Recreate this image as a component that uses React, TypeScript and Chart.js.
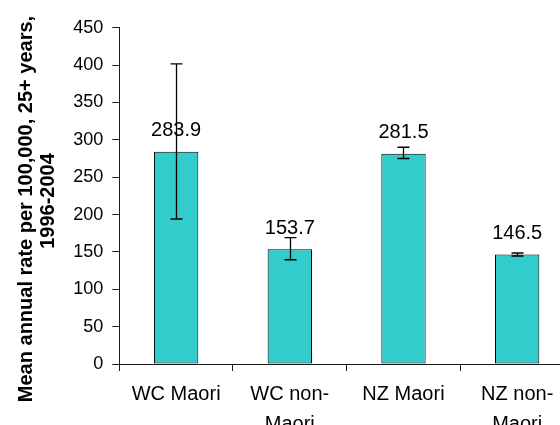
import React, { useEffect, useRef } from 'react';
import { Chart, registerables } from 'chart.js';

Chart.register(...registerables);

// ---- data ----
const categories: string[][] = [['WC Maori'], ['WC non-', 'Maori'], ['NZ Maori'], ['NZ non-', 'Maori']];
const rates: number[] = [283.9, 153.7, 281.5, 146.5];
const ciLower: number[] = [194, 139.5, 275, 144.5];
const ciUpper: number[] = [401.5, 169, 290, 148.5];
const yMin = 0;
const yMax = 450;
const yStep = 50;
const yTitleLines: string[] = ['Mean annual rate per 100,000, 25+ years,', '1996-2004'];

const FONT = "'Liberation Sans', Arial, Helvetica, sans-serif";
const CANVAS_W = 574;
const CANVAS_H = 450;
const AXIS_COLOR = '#1a1a1a';

export default function App() {
  const ref = useRef<HTMLCanvasElement>(null);

  useEffect(() => {
    const titlePlugin = {
      id: 'yTitle',
      afterDraw(chart: any) {
        const ctx = chart.ctx;
        ctx.save();
        ctx.fillStyle = '#000';
        ctx.font = `bold 20px ${FONT}`;
        ctx.textAlign = 'center';
        ctx.textBaseline = 'alphabetic';
        const pos = [
          { x: 32, y: 209 },
          { x: 54, y: 201 },
        ];
        yTitleLines.forEach((line, i) => {
          ctx.save();
          ctx.translate(pos[i].x, pos[i].y);
          ctx.rotate(-Math.PI / 2);
          ctx.fillText(line, 0, 0);
          ctx.restore();
        });
        ctx.restore();
      },
    };

    const valueLabels = {
      id: 'valueLabels',
      afterDatasetsDraw(chart: any) {
        const ctx = chart.ctx;
        const meta = chart.getDatasetMeta(0);
        ctx.save();
        ctx.fillStyle = '#000';
        ctx.font = `20px ${FONT}`;
        ctx.textAlign = 'center';
        ctx.textBaseline = 'alphabetic';
        meta.data.forEach((bar: any, i: number) => {
          ctx.fillText(rates[i].toFixed(1), bar.x, bar.y - 15.5);
        });
        ctx.restore();
      },
    };

    const errorBars = {
      id: 'errorBars',
      afterDatasetsDraw(chart: any) {
        const ctx = chart.ctx;
        const meta = chart.getDatasetMeta(0);
        const yScale = chart.scales.y;
        ctx.save();
        ctx.strokeStyle = '#000';
        ctx.lineWidth = 1.3;
        meta.data.forEach((bar: any, i: number) => {
          const x = Math.round(bar.x) + 0.5;
          const yl = yScale.getPixelForValue(ciLower[i]);
          const yh = yScale.getPixelForValue(ciUpper[i]);
          ctx.beginPath();
          ctx.moveTo(x, yl);
          ctx.lineTo(x, yh);
          ctx.moveTo(x - 6, yl);
          ctx.lineTo(x + 6, yl);
          ctx.moveTo(x - 6, yh);
          ctx.lineTo(x + 6, yh);
          ctx.stroke();
        });
        ctx.restore();
      },
    };

    const chart = new Chart(ref.current as HTMLCanvasElement, {
      type: 'bar',
      data: {
        labels: categories,
        datasets: [
          {
            data: rates,
            backgroundColor: '#33CCCC',
            borderColor: '#000',
            borderWidth: 1,
            borderSkipped: false,
            barPercentage: 0.39,
            categoryPercentage: 1,
          },
        ],
      },
      options: {
        responsive: false,
        animation: false,
        devicePixelRatio: 1,
        layout: { padding: { top: 27.7, left: 0, right: 0, bottom: 0 } },
        plugins: {
          legend: { display: false },
          tooltip: { enabled: false },
          title: { display: false },
        },
        scales: {
          x: {
            grid: {
              display: true,
              drawOnChartArea: false,
              drawTicks: true,
              tickLength: 7,
              color: AXIS_COLOR,
              offset: true,
            },
            border: { color: AXIS_COLOR, width: 1 },
            ticks: {
              color: '#000',
              font: { family: FONT, size: 20, lineHeight: 1.5 },
              padding: 8,
              maxRotation: 0,
              minRotation: 0,
              autoSkip: false,
            },
            afterFit: (s: any) => {
              s.height = CANVAS_H - 364;
            },
          },
          y: {
            min: yMin,
            max: yMax,
            grid: {
              display: true,
              drawOnChartArea: false,
              drawTicks: true,
              tickLength: 7,
              color: AXIS_COLOR,
            },
            border: { color: AXIS_COLOR, width: 1 },
            ticks: {
              stepSize: yStep,
              color: '#000',
              font: { family: FONT, size: 18 },
              padding: 9,
            },
            afterFit: (s: any) => {
              s.width = 119.3;
            },
          },
        },
      },
      plugins: [titlePlugin, valueLabels, errorBars],
    });
    return () => chart.destroy();
  }, []);

  return (
    <div
      style={{
        position: 'fixed',
        left: 0,
        top: 0,
        width: 560,
        height: 425,
        overflow: 'hidden',
        background: '#fff',
      }}
    >
      <canvas
        ref={ref}
        width={CANVAS_W}
        height={CANVAS_H}
        style={{ display: 'block', width: CANVAS_W, height: CANVAS_H }}
      />
    </div>
  );
}
